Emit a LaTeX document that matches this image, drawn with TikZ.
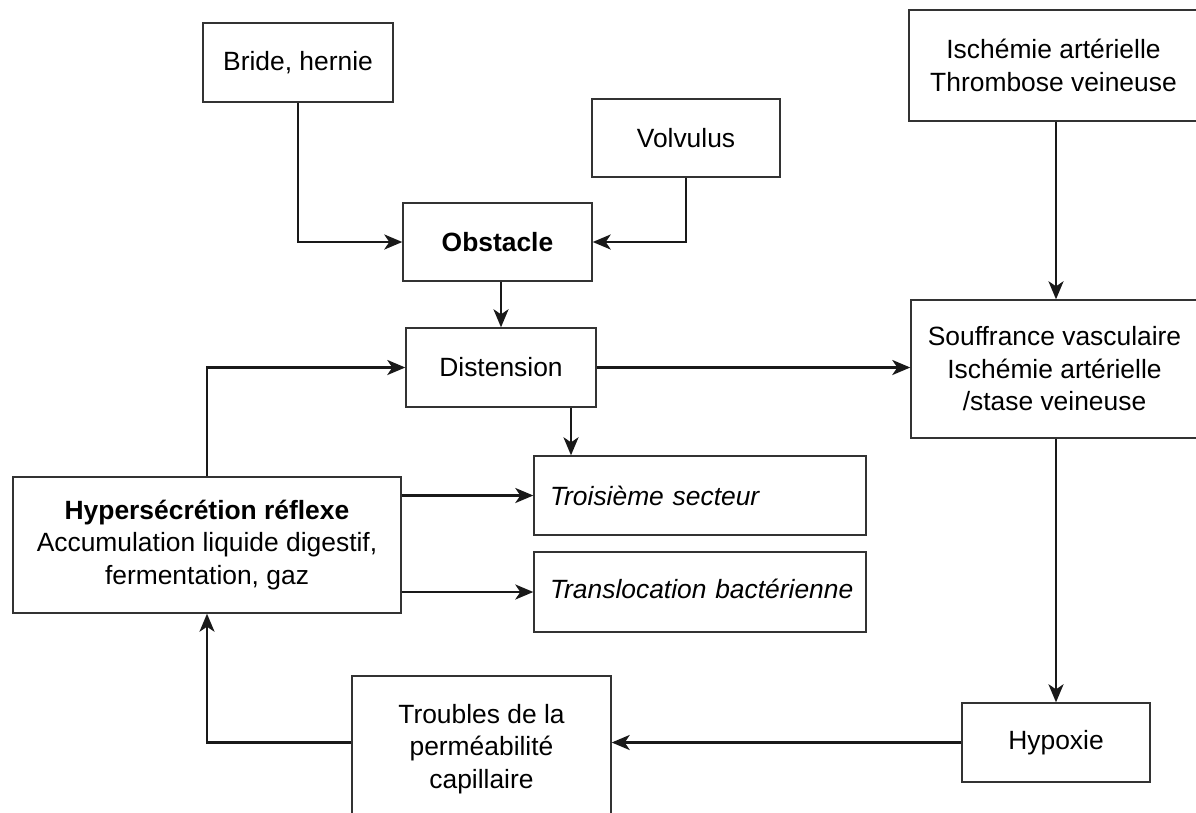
\documentclass[tikz,border=0pt]{standalone}
\usepackage{fontspec}
\setmainfont{Liberation Sans}
\usetikzlibrary{arrows.meta}
\tikzset{
  box/.style={draw=black!80, line width=1.4pt, fill=white, inner sep=0pt, align=center,
    font=\fontsize{26.4}{32.5}\selectfont},
  lbox/.style={box, align=left, inner xsep=16pt, font=\fontsize{26.4}{32.5}\selectfont\itshape},
  arr/.style={line width=2.6pt, draw=black!90, -{Stealth[length=18pt,width=15pt,inset=5pt]}},
}
\begin{document}
\begin{tikzpicture}[x=1pt,y=-1pt]
\useasboundingbox (0,0) rectangle (1196,812);
\clip (0,0) rectangle (1196,812);
\fill[white] (0,0) rectangle (1196,812);

\node[box, minimum width=190pt, minimum height=79pt] (bride) at (298,62.5) {Bride, hernie};
\node[box, minimum width=188pt, minimum height=78pt] (volv) at (686,138) {Volvulus};
\node[box, minimum width=189pt, minimum height=78pt] (obst) at (497.5,242) {\bfseries Obstacle};
\node[box, minimum width=190pt, minimum height=79pt] (dist) at (501,367.5) {Distension};
\node[box, minimum width=289pt, minimum height=111pt] (isch) at (1053.5,65.5) {Ischémie artérielle\\Thrombose veineuse};
\node[box, minimum width=287pt, minimum height=138pt] (souf) at (1054.5,369) {Souffrance vasculaire\\Ischémie artérielle\\/stase veineuse};
\node[box, minimum width=388pt, minimum height=136pt] (hyper) at (207,545) {\bfseries Hypersécrétion réflexe\\Accumulation liquide digestif,\\fermentation, gaz};
\node[lbox, text width=300pt, minimum width=332pt, minimum height=79pt] (trois) at (700,495.5) {Troisième secteur};
\node[lbox, text width=300pt, minimum width=332pt, minimum height=80pt] (trans) at (700,592) {\mbox{Translocation bactérienne}\vphantom{g}};
\node[box, minimum width=259pt, minimum height=146pt] (troub) at (481.5,749) {Troubles de la\\perméabilité\\capillaire};
\node[box, minimum width=188pt, minimum height=79pt] (hypox) at (1056,742.5) {Hypoxie};

\draw[arr] (bride.south) |- (obst.west);
\draw[arr] (volv.south) |- (obst.east);
\draw[arr] (dist.north |- obst.south) -- (dist.north);
\draw[arr] (dist.east) -- (dist.east -| souf.west);
\draw[arr] (hypox.north |- isch.south) -- (hypox.north |- souf.north);
\draw[arr] (hypox.north |- souf.south) -- (hypox.north);
\draw[arr] (hypox.west) -- (hypox.west -| troub.east);
\draw[arr] (troub.west |- hypox.west) -| (hyper.south);
\draw[arr] (hyper.north) |- (dist.west);
\draw[arr] ([xshift=70pt]dist.south) -- ([xshift=70pt]dist.south |- trois.north);
\draw[arr] (hyper.east |- trois.west) -- (trois.west);
\draw[arr] (hyper.east |- trans.west) -- (trans.west);
\end{tikzpicture}
\end{document}
